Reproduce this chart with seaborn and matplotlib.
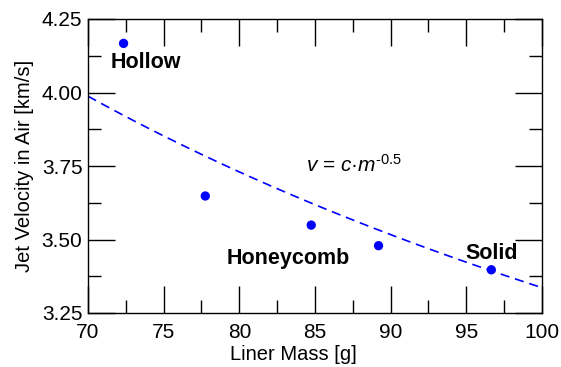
import numpy as np
import pandas as pd
import matplotlib
matplotlib.use("Agg")
import matplotlib.pyplot as plt
from matplotlib.ticker import MultipleLocator, FormatStrFormatter
import seaborn as sns

# --- data ---
liner_mass = [72.35, 77.75, 84.75, 89.2, 96.65]       # g
jet_velocity = [4.167, 3.648, 3.549, 3.479, 3.397]    # km/s
labels = ["Hollow", "Honeycomb", "Solid"]
label_mass = [73.8, 83.2, 96.7]
label_vel = [4.102, 3.435, 3.452]


def set_style():
    sns.set_style("ticks")
    plt.rcParams['font.family'] = ['Liberation Sans', 'DejaVu Sans']
    plt.rcParams['mathtext.fontset'] = 'custom'
    plt.rcParams['mathtext.rm'] = 'Liberation Sans'
    plt.rcParams['mathtext.it'] = 'Liberation Sans:italic'
    plt.rcParams['axes.unicode_minus'] = False
    plt.rcParams['text.color'] = 'black'
    plt.rcParams['axes.labelcolor'] = 'black'


def plot():
    set_style()
    df = pd.DataFrame({"m": liner_mass, "v": jet_velocity})

    # least-squares fit of v = c * m^-0.5
    m_arr = np.array(liner_mass)
    v_arr = np.array(jet_velocity)
    c = np.sum(v_arr * m_arr ** -0.5) / np.sum(m_arr ** -1.0)
    m_fit = np.linspace(70, 100, 61)
    fit = pd.DataFrame({"m": m_fit, "v": c * m_fit ** -0.5})

    fig = plt.figure(figsize=(5.61, 3.67), dpi=100)
    ax = fig.add_axes([88 / 561, 1 - 313 / 367, 454 / 561, 294 / 367])

    sns.lineplot(data=fit, x="m", y="v", color="#0000ff", linewidth=1.2,
                 linestyle=(0, (5.5, 3.5)), ax=ax)
    sns.scatterplot(data=df, x="m", y="v", color="#0000ff", s=45,
                    edgecolor="none", ax=ax, zorder=3)

    for txt, x, y in zip(labels, label_mass, label_vel):
        ax.text(x, y, txt, ha="center", va="center", fontsize=15.5,
                fontweight="bold", color="black")
    ax.text(84.4, 3.755, r"$v$ = $c$·$m^{\text{-0.5}}$", ha="left",
            va="center", fontsize=15, color="black")

    ax.set_xlim(70, 100)
    ax.set_ylim(3.25, 4.25)
    ax.xaxis.set_major_locator(MultipleLocator(5))
    ax.xaxis.set_minor_locator(MultipleLocator(2.5))
    ax.yaxis.set_major_locator(MultipleLocator(0.25))
    ax.yaxis.set_minor_locator(MultipleLocator(0.125))
    ax.yaxis.set_major_formatter(FormatStrFormatter("%.2f"))

    ax.tick_params(which="both", direction="in", top=True, right=True,
                   width=1.0, colors="black", labelsize=15)
    ax.tick_params(which="major", length=19.5, pad=4)
    ax.tick_params(axis="x", which="major", pad=7)
    ax.tick_params(which="minor", length=9.7)
    for sp in ax.spines.values():
        sp.set_visible(True)
        sp.set_color("black")
        sp.set_linewidth(1.0)

    ax.set_xlabel("Liner Mass [g]", fontsize=14.5)
    ax.set_ylabel("Jet Velocity in Air [km/s]", fontsize=14.5)
    ax.xaxis.set_label_coords((293.5 - 88) / 454, -41 / 294)
    ax.yaxis.set_label_coords(-63 / 454, 0.5)
    ax.xaxis.label.set_va("center")
    ax.yaxis.label.set_va("center")

    fig.savefig("out.png", dpi=100)


if __name__ == "__main__":
    plot()
